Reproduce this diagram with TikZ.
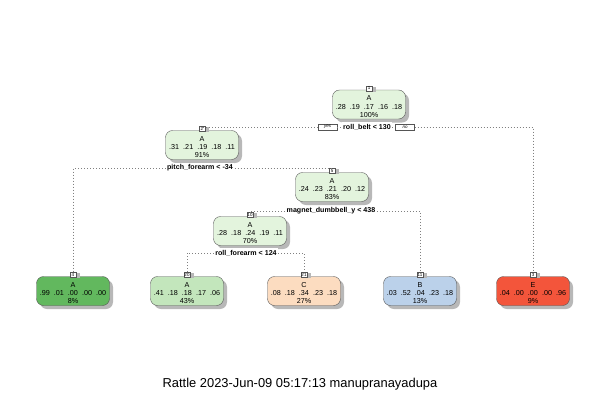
\documentclass[tikz,border=0pt]{standalone}
\usepackage{fontspec}
\setmainfont{Liberation Sans}
\usetikzlibrary{shadows}
\definecolor{cint}{HTML}{E3F4DD}
\definecolor{cA1}{HTML}{62B85E}
\definecolor{cA2}{HTML}{C3E6BC}
\definecolor{cC}{HTML}{FCDCC0}
\definecolor{cB}{HTML}{BBD1EA}
\definecolor{cE}{HTML}{F3553B}
\definecolor{bord}{HTML}{555555}
\newcommand{\tpad}{\rule{0pt}{9.2pt}}
\begin{document}
\begin{tikzpicture}[x=1pt,y=-1pt,
  tbox/.style={draw=bord, rounded corners=7pt, minimum width=73pt, minimum height=29pt,
    align=center, font=\fontsize{7.2}{8.2}\selectfont, inner sep=0pt,
    drop shadow={shadow xshift=3.5pt, shadow yshift=-3.5pt, fill=black!28, opacity=1}},
  numbox/.style={draw=bord, fill=white, font=\fontsize{4.5}{5}\selectfont, inner sep=0.4pt,
    minimum width=6pt, minimum height=5pt, anchor=south, yshift=-1.2pt,
    drop shadow={shadow xshift=4pt, shadow yshift=-0.8pt, fill=black!28, opacity=1}},
  yn/.style={draw=bord, fill=white, font=\fontsize{4.5}{5}\selectfont\itshape, inner sep=0.4pt,
    minimum width=19pt, minimum height=6pt},
  split/.style={font=\fontsize{7.1}{8}\selectfont\bfseries, inner sep=1.5pt, fill=white},
  conn/.style={draw=black!50, dash pattern=on 0.7pt off 2.3pt, line width=0.7pt}
]
\useasboundingbox (0,0) rectangle (606,410);
\fill[white] (0,0) rectangle (606,410);

% nodes
\node[tbox, fill=cint] (n1) at (369,104.5) {\tpad A\\.28\ \ .19\ \ .17\ \ .16\ \ .18\\100\%};
\node[tbox, fill=cint] (n2) at (202,145) {\tpad A\\.31\ \ .21\ \ .19\ \ .18\ \ .11\\91\%};
\node[tbox, fill=cint] (n5) at (332,187) {\tpad A\\.24\ \ .23\ \ .21\ \ .20\ \ .12\\83\%};
\node[tbox, fill=cint] (n10) at (250,231) {\tpad A\\.28\ \ .18\ \ .24\ \ .19\ \ .11\\70\%};
\node[tbox, fill=cA1] (n4) at (73,291) {\tpad A\\.99\ \ .01\ \ .00\ \ .00\ \ .00\\8\%};
\node[tbox, fill=cA2] (n20) at (187,291) {\tpad A\\.41\ \ .18\ \ .18\ \ .17\ \ .06\\43\%};
\node[tbox, fill=cC] (n21) at (304,291) {\tpad C\\.08\ \ .18\ \ .34\ \ .23\ \ .18\\27\%};
\node[tbox, fill=cB] (n11) at (420,291) {\tpad B\\.03\ \ .52\ \ .04\ \ .23\ \ .18\\13\%};
\node[tbox, fill=cE] (n3) at (533,291) {\tpad E\\.04\ \ .00\ \ .00\ \ .00\ \ .96\\9\%};

% number labels
\node[numbox] (k1) at (n1.north) {1};
\node[numbox] (k2) at (n2.north) {2};
\node[numbox] (k5) at (n5.north) {5};
\node[numbox] (k10) at (n10.north) {10};
\node[numbox] (k4) at (n4.north) {4};
\node[numbox] (k20) at (n20.north) {20};
\node[numbox] (k21) at (n21.north) {21};
\node[numbox] (k11) at (n11.north) {11};
\node[numbox] (k3) at (n3.north) {3};

% split labels
\node[split] (s1) at (367,127) {roll\_belt < 130};
\node[yn] (yes) at (327.5,127) {yes};
\node[yn] (no) at (405,127) {no};
\node[split] (s2) at (200,168) {pitch\_forearm < -34};
\node[split] (s5) at (331,211) {magnet\_dumbbell\_y < 438};
\node[split] (s10) at (246,253) {roll\_forearm < 124};

% connectors
\path[conn] (yes.west) -| (k2.north);
\path[conn] (no.east) -| (k3.north);
\path[conn] (yes.east) -- (s1.west);
\path[conn] (s1.east) -- (no.west);
\path[conn] (s2.west) -| (k4.north);
\path[conn] (s2.east) -| (k5.north);
\path[conn] (s5.west) -| (k10.north);
\path[conn] (s5.east) -| (k11.north);
\path[conn] (s10.west) -| (k20.north);
\path[conn] (s10.east) -| (k21.north);

\node[font=\fontsize{12.9}{14}\selectfont] (foot) at (300,384) {Rattle 2023-Jun-09 05:17:13 manupranayadupa};
\end{tikzpicture}
\end{document}
